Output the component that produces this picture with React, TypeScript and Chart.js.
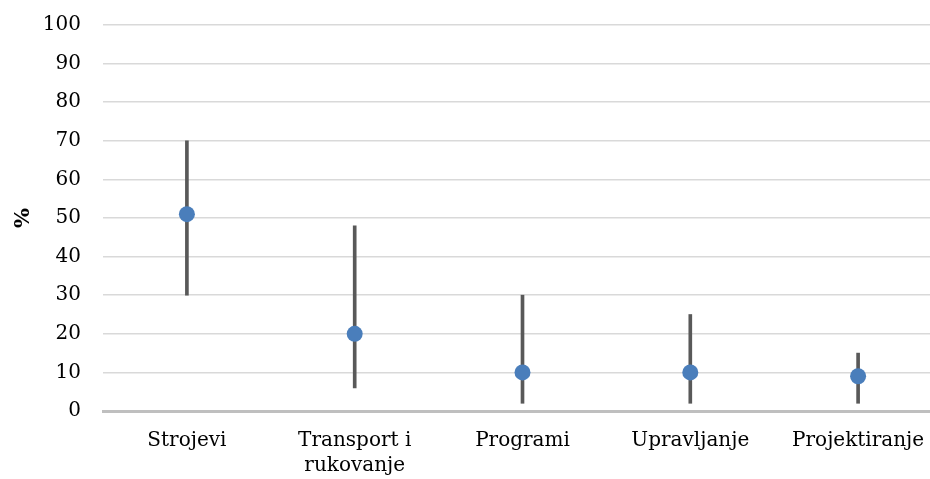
import React, { useEffect, useRef } from "react";
import { Chart, registerables } from "chart.js";

Chart.register(...registerables);

const categories: (string | string[])[] = ["Strojevi", ["Transport i", "rukovanje"], "Programi", "Upravljanje", "Projektiranje"];
const meanValues = [51, 20, 10, 10, 9];
const minValues = [30, 6, 2, 2, 2];
const maxValues = [70, 48, 30, 25, 15];
const yTicks = [0, 10, 20, 30, 40, 50, 60, 70, 80, 90, 100];

const FONT = "'DejaVu Serif', serif";

export default function App() {
  const ref = useRef<HTMLCanvasElement | null>(null);
  useEffect(() => {
    if (!ref.current) return;
    const ranges = minValues.map((m, i) => [m, maxValues[i]]);
    const chart = new Chart(ref.current, {
      data: {
        labels: categories as any,
        datasets: [
          {
            type: "line",
            label: "Mean",
            data: meanValues,
            showLine: false,
            pointRadius: 8,
            pointHoverRadius: 8,
            pointBackgroundColor: "#4a7ebb",
            pointBorderWidth: 0,
            borderColor: "#4a7ebb",
            backgroundColor: "#4a7ebb",
            order: 0,
          } as any,
          {
            type: "bar",
            label: "Range",
            data: ranges as any,
            backgroundColor: "#595959",
            borderWidth: 0,
            barThickness: 3,
            order: 1,
          } as any,
        ],
      },
      options: {
        responsive: false,
        maintainAspectRatio: false,
        animation: false,
        layout: { autoPadding: false, padding: { top: 25, right: 4, left: 0, bottom: 0 } },
        plugins: { legend: { display: false }, tooltip: { enabled: false } },
        scales: {
          x: {
            grid: { display: false, drawTicks: false },
            border: { display: true, color: "#bfbfbf", width: 3 },
            ticks: {
              color: "#000",
              font: { family: FONT, size: 20, lineHeight: 1.25 },
              padding: 17,
              maxRotation: 0,
              autoSkip: false,
            },
            afterFit: (s: any) => {
              s.height = 68;
              s.paddingLeft = 0;
              s.paddingRight = 0;
            },
          },
          y: {
            min: 0,
            max: 100,
            afterBuildTicks: (s: any) => {
              s.ticks = yTicks.map((v) => ({ value: v }));
            },
            grid: { color: "#d9d9d9", lineWidth: 1.5, drawTicks: false },
            border: { display: false },
            ticks: {
              color: "#000",
              font: { family: FONT, size: 20 },
              padding: 22,
            },
            title: {
              display: true,
              text: "%",
              color: "#000",
              font: { family: FONT, size: 21, weight: "bold" },
              padding: { top: 11, bottom: 0 },
            },
            afterFit: (s: any) => {
              s.width = 103;
              s.paddingTop = 0;
              s.paddingBottom = 0;
            },
          },
        },
      },
    });
    return () => chart.destroy();
  }, []);
  return (
    <div style={{ position: "fixed", left: 0, top: 0, width: 930, height: 479, overflow: "hidden", background: "#fff" }}>
      <canvas ref={ref} width={946} height={479} style={{ display: "block" }} />
    </div>
  );
}
